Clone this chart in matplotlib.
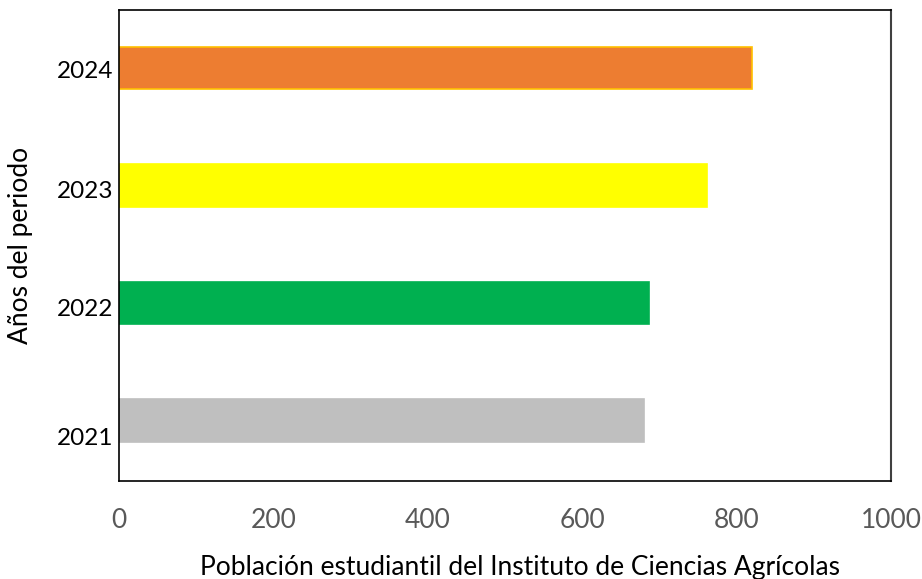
"""Horizontal bars: student population per year."""

import matplotlib
matplotlib.use("Agg")
import matplotlib.pyplot as plt

# ---------- data ----------
years = ["2021", "2022", "2023", "2024"]
students = [680, 686, 762, 820]
bar_colours = ["#BFBFBF", "#00B050", "#FFFF00", "#ED7D31"]
edge_colours = ["#BFBFBF", "#00B050", "#FFFF00", "#FFC000"]
x_ticks = [0, 200, 400, 600, 800, 1000]
# --------------------------

plt.rcParams["font.family"] = ["Lato", "DejaVu Sans"]

fig = plt.figure(figsize=(9.22, 5.79), dpi=100)
ax = fig.add_axes([0.129, 0.169, 0.8375, 0.8137])

positions = list(range(len(years)))
ax.barh(positions, students, height=0.36, color=bar_colours,
        edgecolor=edge_colours, linewidth=1.2)

ax.set_xlim(0, 1000)
ax.set_ylim(-0.515, 3.494)
ax.set_xticks(x_ticks)
ax.set_xticklabels([str(v) for v in x_ticks], color="#595959", fontsize=19)
# labels sit a bit below the bar centres in the original
label_shift = [-0.136, -0.04, -0.034, -0.01]
ax.set_yticks([p + s for p, s in zip(positions, label_shift)])
ax.set_yticklabels(years, fontsize=17.5, color="black")
ax.tick_params(axis="both", length=0)
ax.tick_params(axis="x", pad=19)
ax.tick_params(axis="y", pad=4)

for side in ["left", "bottom", "top"]:
    ax.spines[side].set_color("black")
    ax.spines[side].set_linewidth(1.2)
ax.spines["right"].set_color("#404040")
ax.spines["right"].set_linewidth(1.5)

ax.set_xlabel("Población estudiantil del Instituto de Ciencias Agrícolas",
              fontsize=19, labelpad=16, x=0.52)
ax.set_ylabel("Años del periodo", fontsize=19)
ax.yaxis.set_label_coords(-0.111, 0.5)

fig.savefig("out.png", dpi=100)
